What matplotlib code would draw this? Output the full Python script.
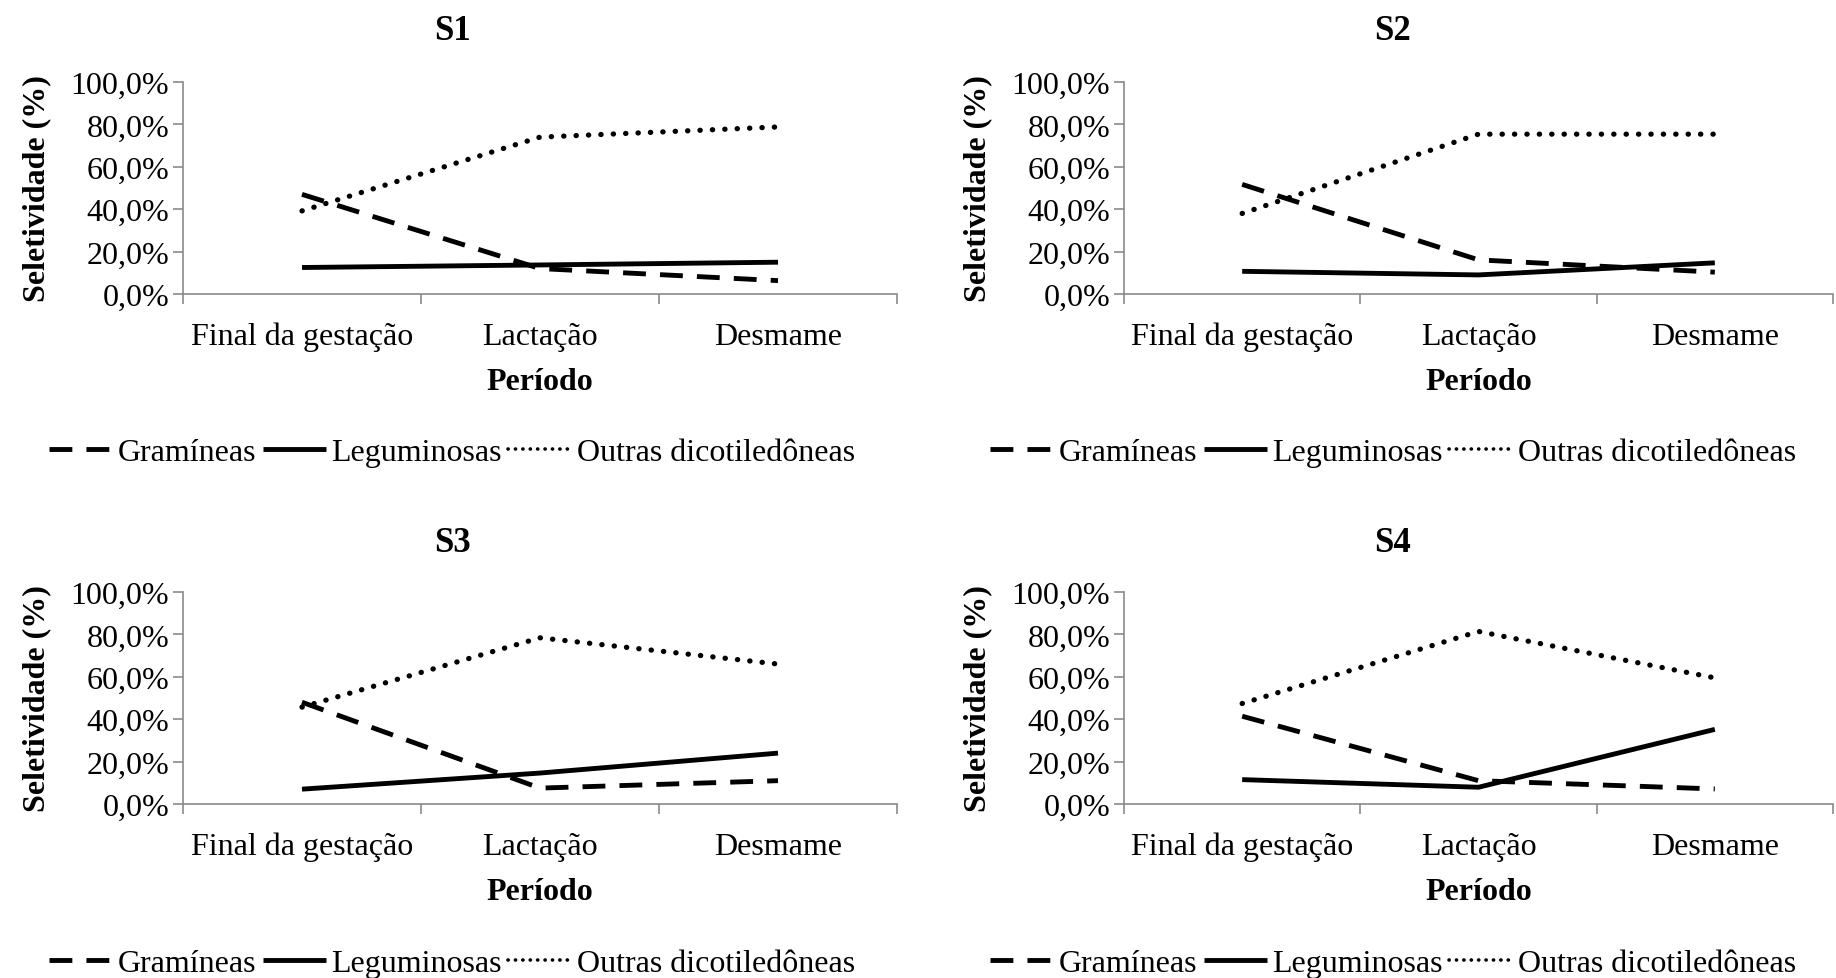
import matplotlib
matplotlib.use("Agg")
import matplotlib.pyplot as plt
from matplotlib.lines import Line2D
from matplotlib.ticker import FuncFormatter

plt.rcParams['font.family'] = ['Liberation Serif', 'DejaVu Serif']

# ===============================
# Data
# ===============================

periodos = ["Final da gestação", "Lactação", "Desmame"]
paineis = ["S1", "S2", "S3", "S4"]

gramineas = {
    "S1": [47.0, 12.0, 6.3],
    "S2": [51.7, 16.1, 10.3],
    "S3": [48.0, 7.5, 11.0],
    "S4": [41.4, 11.0, 7.1],
}
leguminosas = {
    "S1": [12.5, 13.7, 15.0],
    "S2": [10.7, 9.0, 14.7],
    "S3": [7.0, 14.6, 24.0],
    "S4": [11.5, 7.9, 35.2],
}
outras = {
    "S1": [39.2, 74.0, 78.8],
    "S2": [38.0, 75.4, 75.4],
    "S3": [45.7, 78.4, 66.0],
    "S4": [47.4, 81.4, 59.5],
}

# ===============================
# Layout (pixels)
# ===============================

W, H = 1836, 979
FS = 23
GRAY = "#8a8a8a"

# left, right, y(0%), y(100%)
caixas = {
    "S1": (183, 897, 295, 83),
    "S2": (1124, 1833, 295, 83),
    "S3": (183, 897, 805, 593),
    "S4": (1124, 1833, 805, 593),
}

fig = plt.figure(figsize=(W / 100, H / 100), dpi=100)

dash_style = (0, (4.7, 2.9))
dot_style = (0, (0.05, 2.3))

# legend proxies
legend_handles = [
    Line2D([], [], color="black", lw=3.5, linestyle=(0, (4.7, 2.9)), dash_capstyle="butt"),
    Line2D([], [], color="black", lw=3.5, linestyle="-", solid_capstyle="butt"),
    Line2D([], [], color="black", lw=2.6, linestyle=(0, (0.05, 2.0)), dash_capstyle="round"),
]
legend_labels = ["Gramíneas", "Leguminosas", "Outras dicotiledôneas"]

for nome in paineis:
    l, r, y0, y1 = caixas[nome]
    ax = fig.add_axes([l / W, (H - y0) / H, (r - l) / W, (y0 - y1) / H])
    x = range(len(periodos))

    ax.plot(x, gramineas[nome], color="black", lw=3.5, linestyle=dash_style,
            dash_capstyle="butt")
    ax.plot(x, leguminosas[nome], color="black", lw=3.5, linestyle="-",
            solid_capstyle="butt")
    ax.plot(x, outras[nome], color="black", lw=3.8, linestyle=dot_style,
            dash_capstyle="round")

    ax.set_xlim(-0.5, len(periodos) - 0.5)
    ax.set_ylim(0, 100)
    ax.set_yticks([0, 20, 40, 60, 80, 100])
    ax.yaxis.set_major_formatter(FuncFormatter(lambda v, p: f"{v:.1f}%".replace(".", ",")))

    # category boundaries as ticks, labels at centers
    ax.set_xticks([i - 0.5 for i in range(len(periodos) + 1)])
    ax.set_xticklabels([])
    ax.set_xticks(list(x), minor=True)
    ax.set_xticklabels(periodos, minor=True, fontsize=FS)
    ax.tick_params(axis="x", which="minor", length=0, pad=20)
    ax.tick_params(axis="x", which="major", length=7, width=1.2, color=GRAY, direction="out")
    ax.tick_params(axis="y", length=7, width=1.2, color=GRAY, direction="out", labelsize=FS, pad=3)

    for s in ["top", "right"]:
        ax.spines[s].set_visible(False)
    for s in ["left", "bottom"]:
        ax.spines[s].set_color(GRAY)
        ax.spines[s].set_linewidth(1.2)

    ax.set_xlabel("Período", fontsize=FS, fontweight="bold", labelpad=11)
    ax.set_ylabel("Seletividade (%)", fontsize=FS, fontweight="bold", labelpad=14)

    # title centered over the whole panel
    cx = (l - 183 + 452) / W
    ty = 32 if y0 < 500 else 544
    fig.text(cx, 1 - ty / H, nome, ha="center", va="center", fontsize=FS + 2, fontweight="bold")

    ly = 453 if y0 < 500 else 964
    fig.legend(legend_handles, legend_labels, loc="center", bbox_to_anchor=(cx, 1 - ly / H),
               ncol=3, frameon=False, fontsize=FS, handlelength=2.0,
               handletextpad=0.15, columnspacing=0.2, borderaxespad=0)

fig.savefig("out.png", dpi=100)
